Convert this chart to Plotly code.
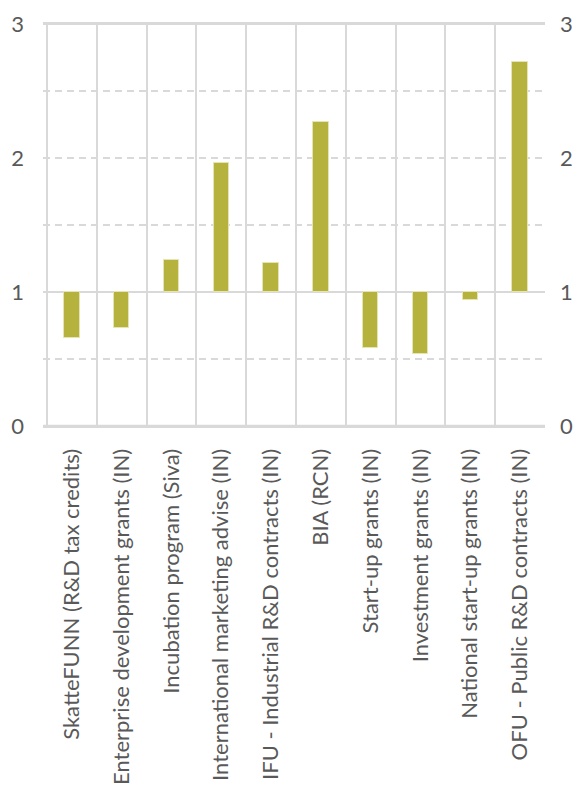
import plotly.graph_objects as go

# Programmes and their ratio relative to the reference level of 1
programmes = [
    "SkatteFUNN (R&D tax credits)",
    "Enterprise development grants (IN)",
    "Incubation program (Siva)",
    "International marketing advise (IN)",
    "IFU - Industrial R&D contracts (IN)",
    "BIA (RCN)",
    "Start-up grants (IN)",
    "Investment grants (IN)",
    "National start-up grants (IN)",
    "OFU - Public R&D contracts (IN)",
]
ratios = [0.66, 0.73, 1.24, 1.96, 1.22, 2.27, 0.58, 0.54, 0.94, 2.72]
baseline = 1.0
y_ticks = [0, 1, 2, 3]
dashed_levels = [0.5, 1.5, 2.0, 2.5]
solid_levels = [0, 1, 3]

BAR = "#B5B33E"
GRID = "#D9D9D9"
TXT = "#595959"

fig = go.Figure()
fig.add_trace(go.Bar(
    x=programmes,
    y=[r - baseline for r in ratios],
    base=baseline,
    width=0.31,
    marker=dict(color=BAR, line=dict(color="#E6E4B4", width=1)),
    hoverinfo="skip",
))
# invisible trace so the right-hand axis is rendered
fig.add_trace(go.Scatter(x=[programmes[0]], y=[0], yaxis="y2",
                         mode="markers", marker=dict(opacity=0),
                         hoverinfo="skip", showlegend=False))

shapes = []
for lv in dashed_levels:
    shapes.append(dict(type="line", xref="paper", yref="y", x0=0, x1=1,
                       y0=lv, y1=lv, layer="below",
                       line=dict(color=GRID, width=2, dash="7px,5px")))
for lv in solid_levels:
    shapes.append(dict(type="line", xref="paper", yref="y", x0=0, x1=1,
                       y0=lv, y1=lv, layer="below",
                       line=dict(color=GRID, width=2.5 if lv == 0 else 2)))

tick_font = dict(family="Lato", size=22, color=TXT)
fig.update_layout(
    width=582, height=786,
    margin=dict(l=43, r=37, t=24, b=360, autoexpand=False),
    paper_bgcolor="white", plot_bgcolor="white",
    showlegend=False,
    bargap=0,
    shapes=shapes,
    xaxis=dict(
        type="category", tickson="boundaries", automargin=False,
        showgrid=True, gridcolor=GRID, gridwidth=2,
        showline=True, linecolor=GRID, linewidth=2, mirror=True,
        ticks="", tickangle=-90,
        tickfont=dict(family="Lato", size=22, color=TXT),
        ticklabelstandoff=12,
        zeroline=False,
    ),
    yaxis=dict(
        range=[0, 3], tickvals=y_ticks, showgrid=False, zeroline=False,
        showline=False, ticks="", tickfont=tick_font, automargin=False,
        ticklabelstandoff=18,
    ),
    yaxis2=dict(
        range=[0, 3], tickvals=y_ticks, overlaying="y", side="right",
        showgrid=False, zeroline=False, showline=False, ticks="",
        tickfont=tick_font, ticklabelstandoff=14, automargin=False,
    ),
)

fig.write_html("out.html")
